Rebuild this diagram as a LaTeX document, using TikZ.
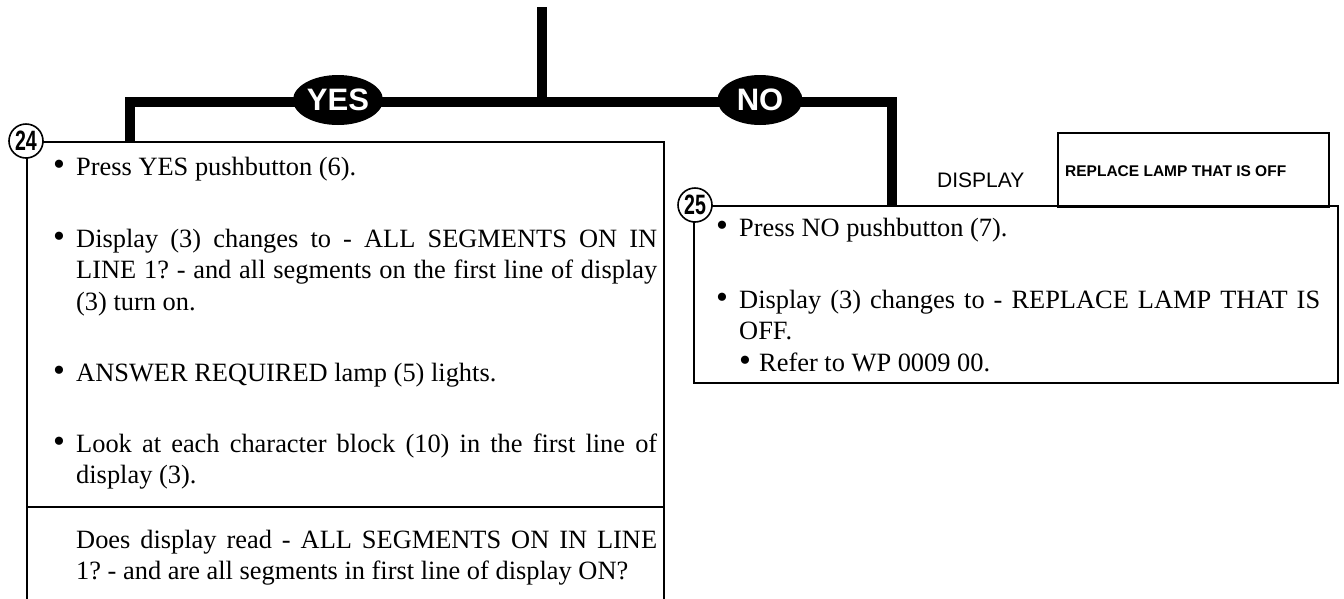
\documentclass[tikz,border=0pt]{standalone}
\usepackage{fontspec}
\setmainfont{Liberation Serif}
\setsansfont{Liberation Sans}
\usetikzlibrary{shapes.geometric}

\newcommand{\stepfont}{\fontsize{26.4}{31.5}\selectfont\frenchspacing\hyphenpenalty=10000\relax\emergencystretch=20pt\relax}
\newcommand{\dotmark}{{\fontsize{34}{34}\selectfont\textbullet}}
\newcommand{\stepitem}[1]{\hangindent=23pt\hangafter=1\noindent\makebox[23pt][l]{\dotmark}#1\par}

\begin{document}
\begin{tikzpicture}[x=1pt, y=-1pt,
    trunk/.style={line width=10pt, line join=miter},
    answer/.style={ellipse, fill=black, text=white, inner sep=0pt, minimum height=50pt, font=\sffamily\bfseries\fontsize{31}{31}\selectfont},
    stepbox/.style={draw, line width=1.6pt, rectangle, inner sep=0pt, anchor=north west},
    stepnum/.style={circle, draw, fill=white, line width=1.6pt, inner sep=0pt, minimum size=34pt, font=\sffamily\bfseries\fontsize{28}{28}\selectfont},
    steptext/.style={anchor=base west, inner sep=0pt, text width=604pt, align=justify, font=\stepfont}]
            \useasboundingbox (0, 0) rectangle (1344, 598);
            \clip (0, 0) rectangle (1344, 598);

            % Boxes
            \node[stepbox, minimum width=637pt, minimum height=480pt] (lbox) at (26, 141) {};
            \node[stepbox, minimum width=271pt, minimum height=74pt] (dispbox) at (1057, 132) {};
            \node[stepbox, minimum width=644pt, minimum height=177pt] (rbox) at (693, 205) {};
            \draw[line width=2pt] ([yshift=-366pt]lbox.north west) -- ([yshift=-366pt]lbox.north east);

            % Decision lines
            \coordinate (stemtop) at (542, 7);
            \coordinate (split) at (542, 102);
            \coordinate (ycorner) at (130, 102);
            \coordinate (ncorner) at (891.5, 102);
            \draw[trunk] (stemtop) -- (split);
            \draw[trunk] (ycorner |- lbox.north) -- (ycorner) -- (ncorner) -- (ncorner |- rbox.north);
            \node[answer, minimum width=90pt] (yes) at (338, 100) {YES};
            \node[answer, minimum width=85pt] (no) at (760, 100) {NO};

            % Step 24
            \node[steptext] (yes1) at (53, 175) {\stepitem{Press YES pushbutton (6).}};
            \node[steptext] (yes2) at (53, 247) {\stepitem{Display (3) changes to - ALL SEGMENTS ON IN\linebreak LINE 1? - and all segments on the first line of display\linebreak (3) turn on.}};
            \node[steptext] (yes3) at (53, 381) {\stepitem{ANSWER REQUIRED lamp (5) lights.}};
            \node[steptext] (yes4) at (53, 452) {\stepitem{Look at each character block (10) in the first line of\linebreak display (3).}};
            \node[steptext, text width=581pt] (query) at (76, 548) {Does display read - ALL SEGMENTS ON IN LINE\linebreak 1? - and are all segments in first line of display ON?};

            % Step 25
            \node[anchor=base west, inner sep=0pt, font=\sffamily\fontsize{21}{21}\selectfont] (displabel) at (937, 187) {DISPLAY};
            \node[anchor=base west, inner sep=0pt, font=\sffamily\bfseries\fontsize{15.5}{15.5}\selectfont] (disptext) at (1065, 176) {REPLACE LAMP THAT IS OFF};
            \node[steptext] (no1) at (716, 236) {\stepitem{Press NO pushbutton (7).}};
            \node[steptext] (no2) at (716, 308) {\stepitem{Display (3) changes to - REPLACE LAMP THAT IS\linebreak OFF.}};
            \node[steptext, text width=581pt] (no3) at (739, 371) {\makebox[20pt][l]{\dotmark}Refer to WP 0009 00.};

            % Step numbers
            \node[stepnum] (num24) at (lbox.north west) {\scalebox{0.7}[1]{24}};
            \node[stepnum] (num25) at ([xshift=2pt]rbox.north west) {\scalebox{0.7}[1]{25}};

        \end{tikzpicture}
\end{document}
